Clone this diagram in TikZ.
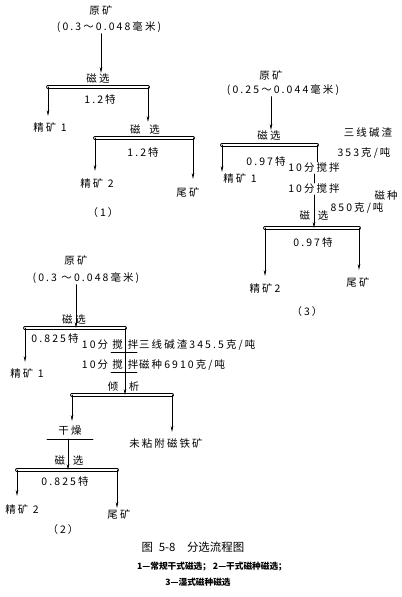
\documentclass[tikz,border=0pt]{standalone}
\usepackage{fontspec}
\setmainfont{Noto Sans CJK SC}[LetterSpace=20]
\newfontfamily\capfont{Noto Sans CJK SC}
\usetikzlibrary{arrows.meta}

\begin{document}
\begin{tikzpicture}[x=1bp, y=-1bp, line cap=round, line join=round, >={Stealth[length=6bp,width=2.6bp]}]
  % styles
  \tikzset{
    lab/.style={font=\fontsize{10.5}{12}\selectfont, inner sep=1bp},
    note/.style={lab, anchor=west},
    sepbar/.style={double, double distance=2.4bp, line width=0.7bp},
    flow/.style={->, line width=0.7bp},
    link/.style={line width=0.7bp},
    capt/.style={font=\capfont\bfseries\fontsize{8.7}{10}\selectfont, inner sep=0pt}
  }

  \useasboundingbox (0,0) rectangle (401,597);

  % ----- flowsheet (1) -----
  \node[lab] (raw1)   at (101,10)  {原矿};
  \node[lab] (size1)  at (109,27)  {(0.3～0.048毫米)};
  \node[lab] (mag1a)  at (98,79)   {磁选};
  \coordinate (b1aL) at (48,87);
  \coordinate (b1aR) at (148,87);
  \node[lab] (t1a)    at (100,100) {1.2特};
  \node[lab] (conc11) at (50,127)  {精矿 1};
  \node[lab] (mag1b)  at (145,130) {磁\hspace{9bp}选};
  \coordinate (b1bL) at (95,138);
  \coordinate (b1bR) at (193,138);
  \node[lab] (t1b)    at (143,153) {1.2特};
  \node[lab] (conc12) at (97,183)  {精矿 2};
  \node[lab] (tail1)  at (188,192) {尾矿};
  \node[lab] (cap1)   at (103,213) {（1）};

  \draw[sepbar] (b1aL) -- (b1aR);
  \draw[sepbar] (b1bL) -- (b1bR);
  \draw[flow] (size1.south -| raw1) -- (mag1a.north -| raw1);
  \draw[flow, shorten >=5bp] (b1aL) -- (b1aL |- conc11.north);
  \draw[flow, shorten >=2bp] (b1aR) -- (b1aR |- mag1b.north);
  \draw[flow, shorten >=6bp] (b1bL) -- (b1bL |- conc12.north);
  \draw[flow, shorten >=7bp] (b1bR) -- (b1bR |- tail1.north);

  % ----- flowsheet (3) -----
  \node[lab] (raw3)   at (271,75)  {原矿};
  \node[lab] (size3)  at (283,90)  {(0.25～0.044毫米)};
  \node[lab] (mag3a)  at (269,136) {磁选};
  \coordinate (b3aL) at (222,145);
  \coordinate (b3aR) at (317,145);
  \node[lab] (t3a)    at (266,162) {0.97特};
  \node[lab] (conc31) at (240,178) {精矿 1};
  \node[lab] (stir3a) at (314,168) {10分搅拌};
  \node[lab] (stir3b) at (314,189) {10分搅拌};
  \node[lab] (slag3a) at (368,133) {三线碱渣};
  \node[lab] (slag3b) at (364,153) {353克/吨};
  \node[lab] (seed3a) at (386,196) {磁种};
  \node[lab] (seed3b) at (357,208) {850克/吨};
  \node[lab] (mag3b)  at (314,216) {磁\hspace{8bp}选};
  \coordinate (b3bL) at (265,228);
  \coordinate (b3bR) at (359,228);
  \node[lab] (t3b)    at (313,243) {0.97特};
  \node[lab] (conc32) at (265,288) {精矿2};
  \node[lab] (tail3)  at (358,282) {尾矿};
  \node[lab] (cap3)   at (307,312) {（3）};

  \draw[sepbar] (b3aL) -- (b3aR);
  \draw[sepbar] (b3bL) -- (b3bR);
  \draw[flow] (size3.south -| raw3) -- (mag3a.north -| raw3);
  \draw[flow] (b3aL) -- (b3aL |- conc31.north);
  \draw[link] (b3aR) -- (b3aR |- stir3a.north);
  \draw[link] (stir3a.south) -- (stir3b.north);
  \draw[flow] (stir3b.south) -- (stir3b |- b3bL);
  \draw[flow, shorten >=6bp] (b3bL) -- (b3bL |- conc32.north);
  \draw[flow, shorten >=6bp] (b3bR) -- (b3bR |- tail3.north);

  % ----- flowsheet (2) -----
  \node[lab] (raw2)   at (76,260)  {原矿};
  \node[lab] (size2)  at (86,278)  {(0.3 ～0.048毫米)};
  \node[lab] (mag2a)  at (74,320)  {磁\hspace{3bp}选};
  \coordinate (b2aL) at (25,328);
  \coordinate (b2aR) at (125,328);
  \node[lab] (t2a)    at (55,339)  {0.825特};
  \node[lab] (conc21) at (27,373)  {精矿 1};
  % stirring rows
  \node[lab] (min2a)  at (95,345)  {10分};
  \node[lab] (sa2a)   at (117.5,345) {搅};
  \node[lab] (sb2a)   at (133,345) {拌};
  \node[note] (slag2) at (138,345) {三线碱渣345.5克/吨};
  \node[lab] (min2b)  at (95,365)  {10分};
  \node[lab] (sa2b)   at (117.5,365) {搅};
  \node[lab] (sb2b)   at (133,365) {拌};
  \node[note] (seed2) at (138,365) {磁种6910克/吨};
  \node[lab] (dec2a)  at (113,387) {倾};
  \node[lab] (dec2b)  at (134,387) {析};
  \coordinate (b2bL) at (72,395);
  \coordinate (b2bR) at (172,395);
  \node[lab] (dry2)   at (70,431)  {干燥};
  \node[lab] (free2)  at (166,443) {未粘附磁铁矿};
  \coordinate (d2L) at (47,439);
  \coordinate (d2R) at (93,439);
  \coordinate (d2M) at (68,439);
  \node[lab] (mag2c)  at (69,461)  {磁\hspace{8bp}选};
  \coordinate (b2cL) at (17,470);
  \coordinate (b2cR) at (117,470);
  \node[lab] (t2c)    at (65,482)  {0.825特};
  \node[lab] (conc22) at (22,509)  {精矿 2};
  \node[lab] (tail2)  at (119,514) {尾矿};
  \node[lab] (cap2)   at (63,530)  {（2）};

  \draw[sepbar] (b2aL) -- (b2aR);
  \draw[sepbar] (b2bL) -- (b2bR);
  \draw[sepbar] (b2cL) -- (b2cR);
  \draw[link] (111,352) -- (137,352);
  \draw[link] (111,372) -- (137,372);
  \draw[link] (d2L) -- (d2R);
  \draw[flow] (size2.south -| raw2) -- (raw2 |- b2aL);
  \draw[flow, shorten >=5bp] (b2aL) -- (b2aL |- conc21.north);
  \draw[flow] (b2aR) -- (b2aR |- b2bL);
  \draw[flow, shorten >=4bp] (b2bL) -- (b2bL |- dry2.north);
  \draw[flow, shorten >=5bp] (b2bR) -- (b2bR |- free2.north);
  \draw[flow] (d2M) -- (d2M |- b2cL);
  \draw[flow, shorten >=7bp] (b2cL) -- (b2cL |- conc22.north);
  \draw[flow, shorten >=0bp] (b2cR) -- (b2cR |- tail2.north);

  % ----- caption -----
  \node[lab, font=\capfont\fontsize{11.5}{13}\selectfont] (fig) at (193,547) {图\enspace 5-8\quad 分选流程图};
  \node[capt] (leg1) at (212,567) {1—常规干式磁选； 2—干式磁种磁选；};
  \node[capt] (leg2) at (198,582) {3—湿式磁种磁选};
\end{tikzpicture}
\end{document}
